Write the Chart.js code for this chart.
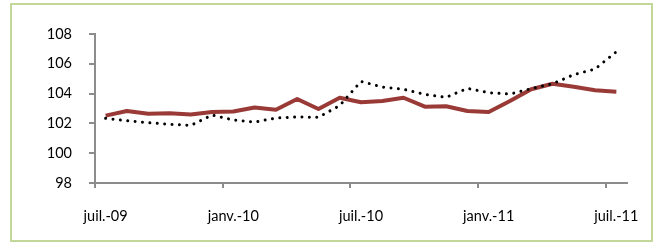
<!DOCTYPE html>
<html>
<head>
<meta charset="utf-8">
<script src="https://cdn.jsdelivr.net/npm/chart.js@4.4.1/dist/chart.umd.min.js"></script>
<style>
  body { margin: 0; background: #fff; }
  #wrap { position: relative; width: 659px; height: 244px; }
  #frame {
    position: absolute; left: 10px; top: 3px; width: 639px; height: 235px;
    border: 2px solid #c4d79b; pointer-events: none;
  }
  canvas { position: absolute; left: 0; top: 0; }
</style>
</head>
<body>
<div id="wrap">
  <canvas id="chart" width="659" height="244"></canvas>
  <div id="frame"></div>
</div>
<script>
// months juil.-09 .. juil.-11
const months = [
  "juil.-09", "août-09", "sept.-09", "oct.-09", "nov.-09", "déc.-09",
  "janv.-10", "févr.-10", "mars-10", "avr.-10", "mai-10", "juin-10",
  "juil.-10", "août-10", "sept.-10", "oct.-10", "nov.-10", "déc.-10",
  "janv.-11", "févr.-11", "mars-11", "avr.-11", "mai-11", "juin-11",
  "juil.-11"
];

// solid dark red line
const solidSeries = [
  102.52, 102.83, 102.65, 102.68, 102.6, 102.76, 102.8, 103.07, 102.92,
  103.64, 102.97, 103.72, 103.42, 103.5, 103.72, 103.12, 103.15, 102.83,
  102.77, 103.5, 104.29, 104.66, 104.46, 104.22, 104.13
];

// dotted black line
const dottedSeries = [
  102.34, 102.18, 102.05, 101.94, 101.87, 102.56, 102.23, 102.09, 102.36,
  102.43, 102.41, 103.2, 104.82, 104.44, 104.29, 103.95, 103.75, 104.35,
  104.06, 103.97, 104.33, 104.66, 105.27, 105.65, 106.81
];

const yTicks = { min: 98, max: 108, step: 2 };

Chart.defaults.font.family = "Lato";
Chart.defaults.font.size = 14.5;
Chart.defaults.color = "#000";

const axisGrey = "#8c8c8c";

new Chart(document.getElementById("chart"), {
  type: "line",
  data: {
    labels: months,
    datasets: [
      {
        label: "dotted",
        data: dottedSeries,
        borderColor: "#000",
        borderWidth: 3,
        borderDash: [0.01, 7.4],
        borderCapStyle: "round",
        pointRadius: 0,
        tension: 0,
        order: 0,
      },
      {
        label: "solid",
        data: solidSeries,
        borderColor: "#9a3a37",
        borderWidth: 4,
        borderJoinStyle: "round",
        pointRadius: 0,
        tension: 0,
        order: 1,
      },
    ],
  },
  options: {
    responsive: false,
    animation: false,
    layout: {
      padding: { left: 35, right: 30, top: 34, bottom: 0 },
    },
    plugins: {
      legend: { display: false },
      tooltip: { enabled: false },
    },
    scales: {
      x: {
        type: "category",
        offset: true,
        afterFit: (s) => { s.height = 61; },
        border: { color: axisGrey, width: 2 },
        grid: {
          offset: true,
          drawOnChartArea: false,
          drawTicks: true,
          tickLength: 5,
          lineWidth: 2,
          color: (ctx) => (ctx.index % 6 === 0 ? axisGrey : "rgba(0,0,0,0)"),
        },
        ticks: {
          autoSkip: false,
          maxRotation: 0,
          padding: 20,
          callback: function (value, index) {
            return index % 6 === 0 ? months[index] : "";
          },
        },
      },
      y: {
        min: yTicks.min,
        max: yTicks.max,
        afterFit: (s) => { s.width = 60; },
        border: { color: axisGrey, width: 2 },
        grid: {
          drawOnChartArea: false,
          drawTicks: true,
          tickLength: 6,
          lineWidth: 2,
          color: axisGrey,
        },
        ticks: {
          stepSize: yTicks.step,
          padding: 17,
        },
      },
    },
  },
});
</script>
</body>
</html>
